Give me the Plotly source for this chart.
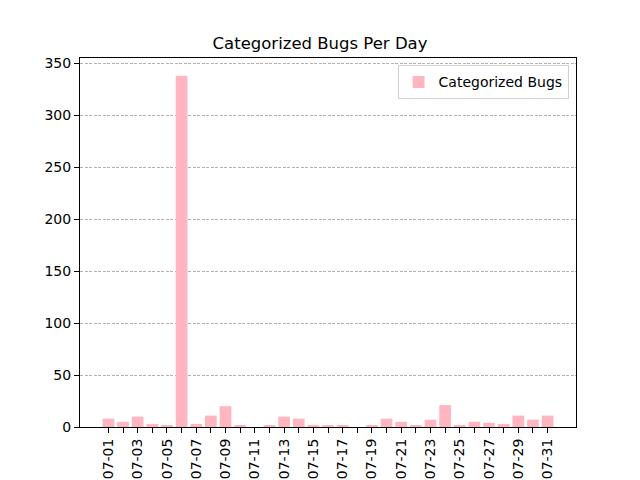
import plotly.graph_objects as go

# Daily counts of categorized bugs for July
days = ["07-%02d" % d for d in range(1, 32)]
bug_counts = [8, 5, 10, 3, 1, 338, 3, 11, 20, 1, 0, 1, 10, 8, 2, 1,
              1, 0, 1, 8, 5, 1, 7, 21, 2, 5, 4, 3, 11, 7, 11]
tick_labels = [d if i % 2 == 0 else "" for i, d in enumerate(days)]

fig = go.Figure()
fig.add_trace(go.Bar(x=days, y=bug_counts, name="Categorized Bugs",
                     marker=dict(color="#FFB6C1", line=dict(width=0)),
                     width=0.8))

fig.update_layout(
    width=640, height=480,
    paper_bgcolor="white", plot_bgcolor="white",
    font=dict(family="DejaVu Sans", size=14, color="black"),
    title=dict(text="Categorized Bugs Per Day", x=0.5, xanchor="center",
               y=1 - 43 / 480, yanchor="middle", font=dict(size=16.5)),
    margin=dict(l=80, r=64, t=58, b=53),
    showlegend=True,
    legend=dict(x=0.985, y=0.98, xanchor="right", yanchor="top",
                bordercolor="#d0d0d0", borderwidth=1, bgcolor="white",
                font=dict(size=14)),
    bargap=0.2,
)
fig.update_xaxes(type="category", range=[-1.94, 31.94],
                 tickmode="array", tickvals=days, ticktext=tick_labels,
                 tickangle=-90, ticks="outside", ticklen=5, tickcolor="black",
                 showline=True, linecolor="black", mirror=True,
                 showgrid=False, automargin=False)
fig.update_yaxes(range=[0, 355], tickvals=list(range(0, 351, 50)),
                 ticks="outside", ticklen=5, tickcolor="black",
                 showline=True, linecolor="black", mirror=True,
                 showgrid=True, gridcolor="#b0b0b0", griddash="3px,1.5px",
                 zeroline=False, automargin=False)

# drop the default page margin so the figure sits at the window corner
fig.write_html("out.html", config={"displayModeBar": False},
               post_script="document.body.style.margin='0';")
